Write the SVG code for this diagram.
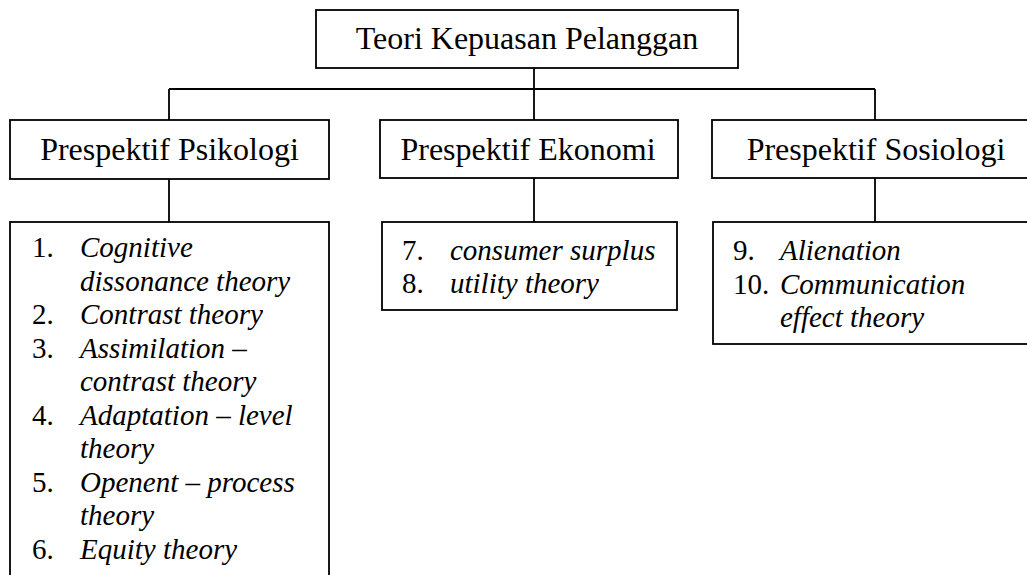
<svg xmlns="http://www.w3.org/2000/svg" width="1027" height="575" viewBox="0 0 1027 575">
<style>
.box{fill:#fff;stroke:#000;stroke-width:1.8}
.conn{fill:none;stroke:#000;stroke-width:1.8}
.h{font-family:"Liberation Serif","Times New Roman",serif;font-size:32px;fill:#000;text-anchor:middle}
.l{font-family:"Liberation Serif","Times New Roman",serif;font-size:29px;fill:#000}
.i{font-style:italic}
</style>
<rect width="1027" height="575" fill="#fff"/>
<g id="connectors">
<path class="conn" d="M534 68V89M169 89H875M169 89V120M534 89V120M875 89V120M169 179V222M534 178V222M875 178V222"/>
</g>
<g id="root">
<rect class="box" x="316" y="10" width="422" height="58"/>
<text class="h" x="527" y="49">Teori Kepuasan Pelanggan</text>
</g>
<g id="psikologi">
<rect class="box" x="10" y="120" width="319" height="59"/>
<text class="h" x="169.5" y="160">Prespektif Psikologi</text>
</g>
<g id="ekonomi">
<rect class="box" x="380" y="120" width="298" height="58"/>
<text class="h" x="528" y="160">Prespektif Ekonomi</text>
</g>
<g id="sosiologi">
<rect class="box" x="712" y="120" width="330" height="58"/>
<text class="h" x="876" y="160">Prespektif Sosiologi</text>
</g>
<g id="list-psikologi">
<rect class="box" x="10" y="222" width="319" height="370"/>
<text class="l" x="32" y="257">1.</text><text class="l i" x="80" y="257">Cognitive</text>
<text class="l i" x="80" y="290.5">dissonance theory</text>
<text class="l" x="32" y="324">2.</text><text class="l i" x="80" y="324">Contrast theory</text>
<text class="l" x="32" y="357.5">3.</text><text class="l i" x="80" y="357.5">Assimilation –</text>
<text class="l i" x="80" y="391">contrast theory</text>
<text class="l" x="32" y="424.5">4.</text><text class="l i" x="80" y="424.5">Adaptation – level</text>
<text class="l i" x="80" y="458">theory</text>
<text class="l" x="32" y="491.5">5.</text><text class="l i" x="80" y="491.5">Openent – process</text>
<text class="l i" x="80" y="525">theory</text>
<text class="l" x="32" y="558.5">6.</text><text class="l i" x="80" y="558.5">Equity theory</text>
</g>
<g id="list-ekonomi">
<rect class="box" x="382" y="222" width="295" height="88"/>
<text class="l" x="402" y="260">7.</text><text class="l i" x="450" y="260">consumer surplus</text>
<text class="l" x="402" y="293">8.</text><text class="l i" x="450" y="293">utility theory</text>
</g>
<g id="list-sosiologi">
<rect class="box" x="713" y="222" width="330" height="122"/>
<text class="l" x="733" y="260">9.</text><text class="l i" x="780" y="260">Alienation</text>
<text class="l" x="733" y="293.5">10.</text><text class="l i" x="780" y="293.5">Communication</text>
<text class="l i" x="780" y="327">effect theory</text>
</g>
</svg>
